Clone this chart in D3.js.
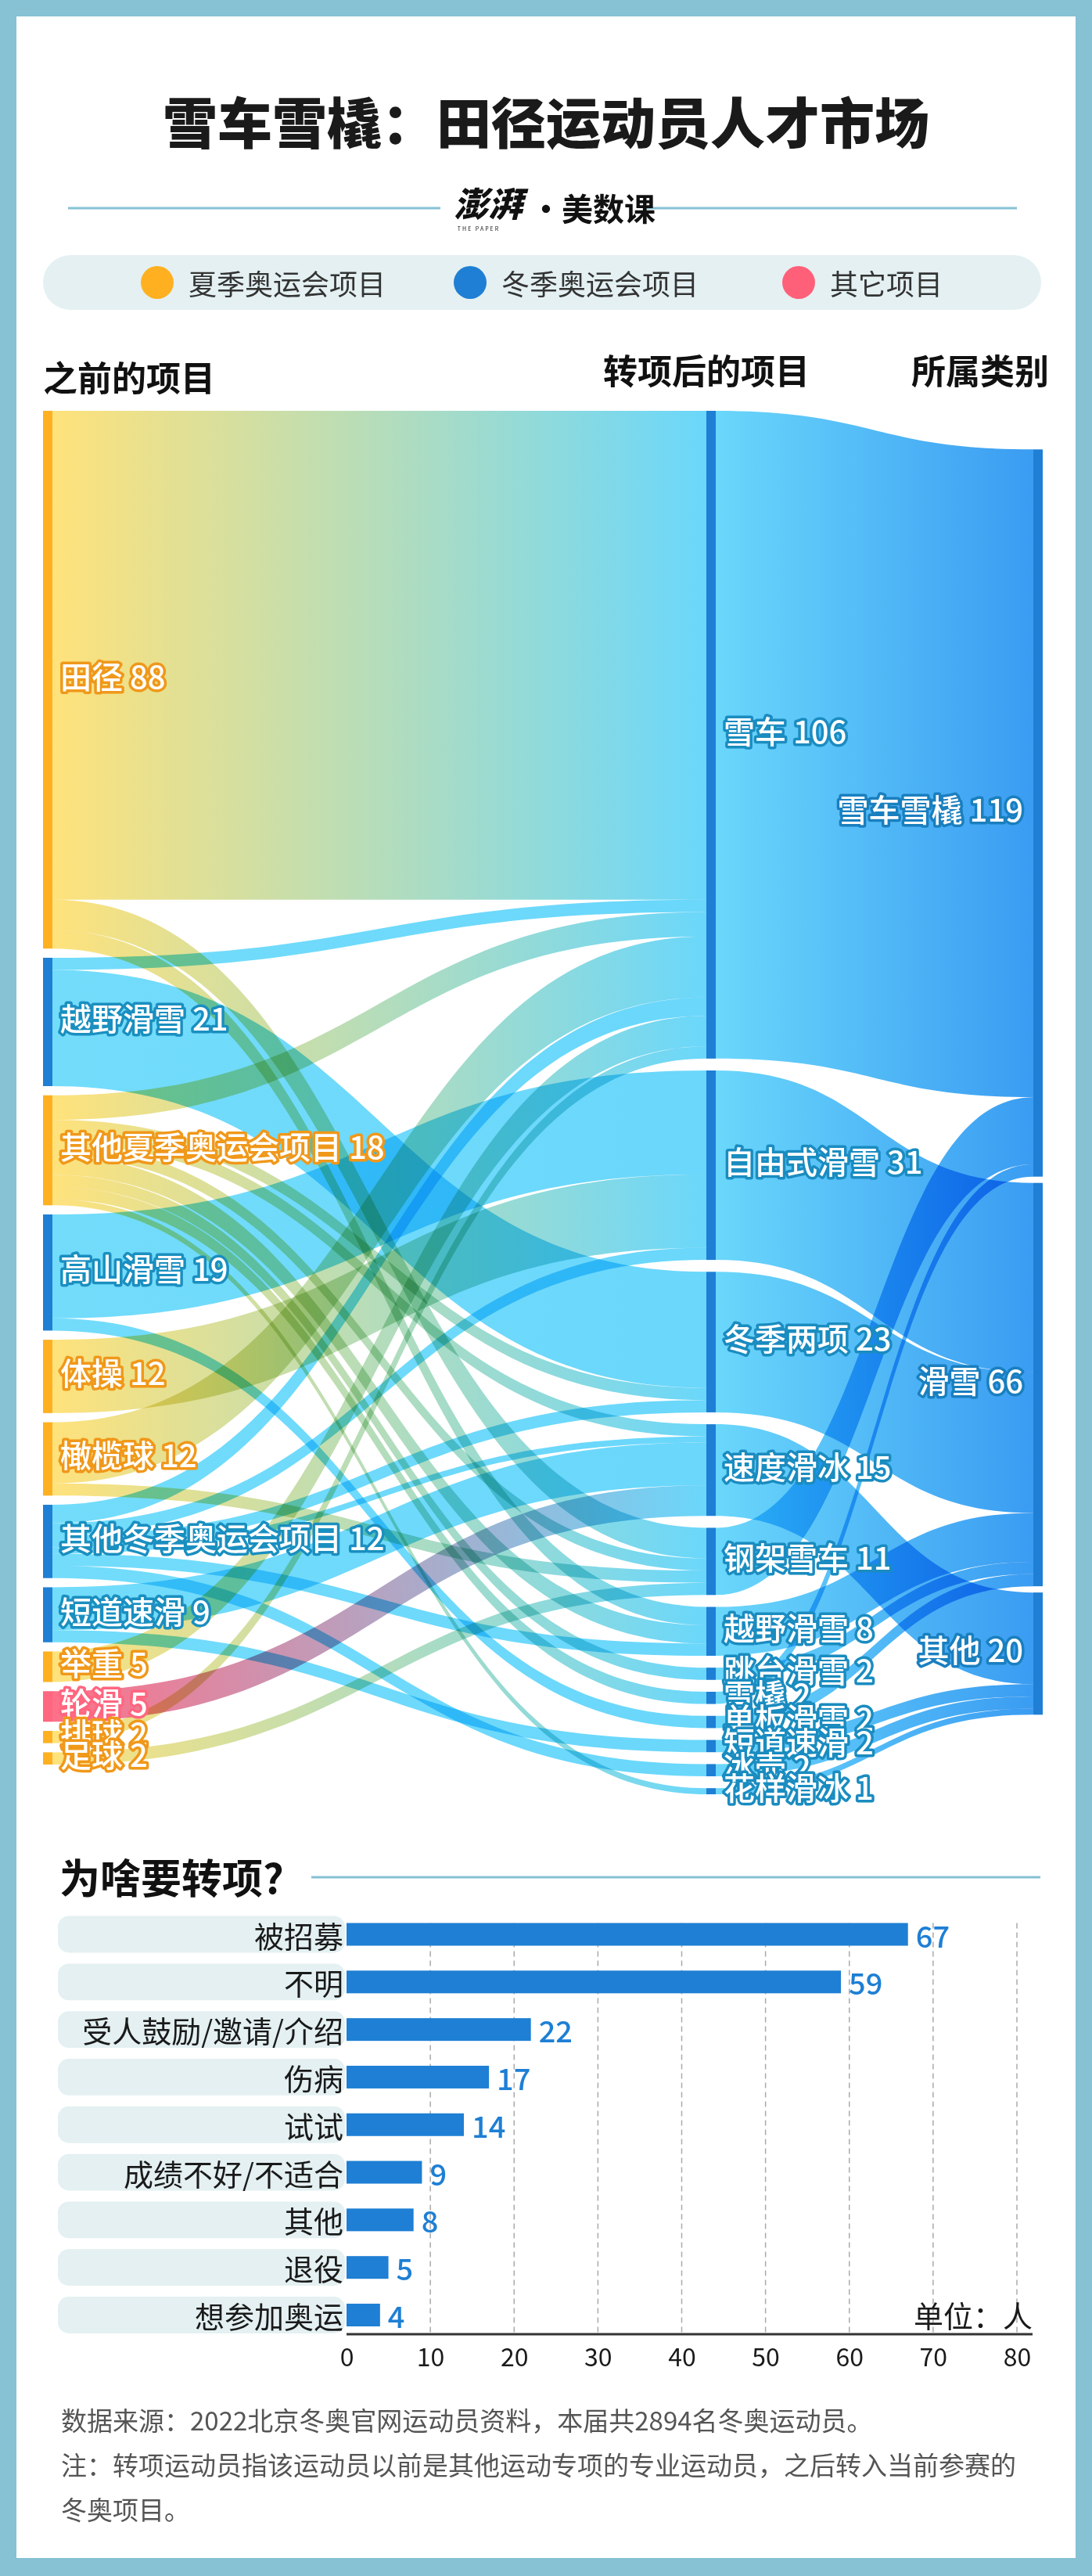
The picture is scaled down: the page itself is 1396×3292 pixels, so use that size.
<!DOCTYPE html>
<html><head><meta charset="utf-8">
<script src="https://cdn.jsdelivr.net/npm/d3@7"></script>
<style>
html,body{margin:0;padding:0;background:#86C1D4;}
svg{display:block;}
text{font-family:"Noto Sans CJK SC","Noto Sans",sans-serif;}
</style></head><body>
<svg id="chart" width="1396" height="3292"></svg>
<script>
// ---------------- DATA ----------------
const titleText = "雪车雪橇：田径运动员人才市场";
const legendLabels = ["夏季奥运会项目", "冬季奥运会项目", "其它项目"];
const legendGroups = ["summer", "winter", "other"];
const columnTitles = ["之前的项目", "转项后的项目", "所属类别"];

const leftNames = ["田径","越野滑雪","其他夏季奥运会项目","高山滑雪","体操","橄榄球","其他冬季奥运会项目","短道速滑","举重","轮滑","排球","足球"];
const leftGroups = ["summer","winter","summer","winter","summer","summer","winter","winter","summer","other","summer","summer"];
const midNames = ["雪车","自由式滑雪","冬季两项","速度滑冰","钢架雪车","越野滑雪","跳台滑雪","雪橇","单板滑雪","短道速滑","冰壶","花样滑冰"];
const rightNames = ["雪车雪橇","滑雪","其他"];

// before -> after
const beforeAfterLinks = [
  ["田径","雪车",80],["田径","钢架雪车",5],["田径","越野滑雪",3],
  ["越野滑雪","雪车",2],["越野滑雪","冬季两项",19],
  ["其他夏季奥运会项目","雪车",4],["其他夏季奥运会项目","冬季两项",2],["其他夏季奥运会项目","速度滑冰",2],
  ["其他夏季奥运会项目","钢架雪车",2],["其他夏季奥运会项目","越野滑雪",3],["其他夏季奥运会项目","跳台滑雪",2],
  ["其他夏季奥运会项目","雪橇",2],["其他夏季奥运会项目","花样滑冰",1],
  ["高山滑雪","自由式滑雪",17],["高山滑雪","单板滑雪",2],
  ["体操","自由式滑雪",12],
  ["橄榄球","雪车",10],["橄榄球","钢架雪车",2],
  ["其他冬季奥运会项目","雪车",3],["其他冬季奥运会项目","自由式滑雪",2],["其他冬季奥运会项目","冬季两项",2],
  ["其他冬季奥运会项目","速度滑冰",1],["其他冬季奥运会项目","越野滑雪",2],["其他冬季奥运会项目","冰壶",2],
  ["短道速滑","速度滑冰",7],["短道速滑","短道速滑",2],
  ["举重","雪车",5],
  ["轮滑","速度滑冰",5],
  ["排球","雪车",2],
  ["足球","钢架雪车",2]
];
// after -> category
const afterCategoryLinks = [
  ["雪车","雪车雪橇",106],["钢架雪车","雪车雪橇",11],["雪橇","雪车雪橇",2],
  ["自由式滑雪","滑雪",31],["冬季两项","滑雪",23],["越野滑雪","滑雪",8],["跳台滑雪","滑雪",2],["单板滑雪","滑雪",2],
  ["速度滑冰","其他",15],["短道速滑","其他",2],["冰壶","其他",2],["花样滑冰","其他",1]
];

const sectionTitle = "为啥要转项?";
const reasons = ["被招募","不明","受人鼓励/邀请/介绍","伤病","试试","成绩不好/不适合","其他","退役","想参加奥运"];
const reasonCounts = [67,59,22,17,14,9,8,5,4];
const reasonTicks = [0,10,20,30,40,50,60,70,80];
const unitText = "单位：人";
const notes = ["数据来源：2022北京冬奥官网运动员资料，本届共2894名冬奥运动员。",
               "注：转项运动员指该运动员以前是其他运动专项的专业运动员，之后转入当前参赛的",
               "冬奥项目。"];

// ---------------- STYLE ----------------
const nodeColor = {summer:"#FFB020", winter:"#1E7FD4", other:"#FF6680", cat:"#1E7FD4"};
const flowColor = {summer:"#FFE27B", winter:"#73DCFB", other:"#FF7088", mid:"#6AD7FB", cat:"#3A9CF2"};
const labelStroke = {summer:"#F0981A", winter:"#1A8FC0", other:"#FF6680", mid:"#1A8CC0", cat:"#1A7FBF"};
const legendColor = {summer:"#FFB020", winter:"#1E7FD4", other:"#FF6079"};
const BLUE = "#1E7FD4", FRAME = "#86C1D4", PALE = "#E4F0F2";

const svg = d3.select("#chart");
svg.append("rect").attr("width",1396).attr("height",3292).attr("fill",FRAME);
svg.append("rect").attr("x",21).attr("y",21).attr("width",1354).attr("height",3248).attr("fill","#fff");

// ---------------- HEADER ----------------
svg.append("text").attr("x",698).attr("y",153).attr("text-anchor","middle").attr("dominant-baseline","central")
  .attr("font-size",70).attr("font-weight",900).attr("fill","#1a1a1a").text(titleText);
svg.append("line").attr("x1",87).attr("x2",563).attr("y1",266).attr("y2",266).attr("stroke",FRAME).attr("stroke-width",3);
svg.append("line").attr("x1",824).attr("x2",1300).attr("y1",266).attr("y2",266).attr("stroke",FRAME).attr("stroke-width",3);
svg.append("text").attr("x",624).attr("y",258).attr("text-anchor","middle").attr("dominant-baseline","central")
  .attr("font-size",44).attr("font-weight",900).attr("fill","#111").attr("font-style","italic").text("澎湃");
svg.append("text").attr("x",612).attr("y",295).attr("text-anchor","middle").attr("font-size",7).attr("fill","#111").attr("letter-spacing",2).text("THE PAPER");
svg.append("text").attr("x",678).attr("y",265).attr("dominant-baseline","central")
  .attr("font-size",40).attr("font-weight",700).attr("fill","#111").text("·美数课");

// legend
svg.append("rect").attr("x",55).attr("y",326).attr("width",1276).attr("height",70).attr("rx",35).attr("fill",PALE);
const legPos = [201, 601, 1021];
const lg = svg.append("g").selectAll("g").data(legendLabels).join("g")
  .attr("transform",(d,i)=>`translate(${legPos[i]},361)`);
lg.append("circle").attr("r",21).attr("fill",(d,i)=>legendColor[legendGroups[i]]);
lg.append("text").attr("x",40).attr("dominant-baseline","central").attr("font-size",36).attr("fill","#333").text(d=>d);

// ---------------- SANKEY ----------------
const colX = d3.scaleLinear().domain([0,1,2]).range([55, 903, 1321]);
const nodeW = 12;
const sankeyTop = 525;
const colBottom = [2255, 2293];
const flowHeight = 1601;
const rightGap = 8;
const relaxAlpha = 0.73;

const nodes = [];
leftNames.forEach((n,i)=>nodes.push({id:"L:"+n,name:n,col:0,group:leftGroups[i]}));
midNames.forEach((n,i)=>nodes.push({id:"M:"+n,name:n,col:1,group:"mid"}));
rightNames.forEach((n,i)=>nodes.push({id:"R:"+n,name:n,col:2,group:"cat"}));
const byId = new Map(nodes.map(d=>[d.id,d]));
const links = [];
beforeAfterLinks.forEach(([s,t,v])=>links.push({source:byId.get("L:"+s),target:byId.get("M:"+t),value:v}));
afterCategoryLinks.forEach(([s,t,v])=>links.push({source:byId.get("M:"+s),target:byId.get("R:"+t),value:v}));
nodes.forEach(n=>{n.sourceLinks=[];n.targetLinks=[];});
links.forEach(l=>{l.source.sourceLinks.push(l);l.target.targetLinks.push(l);});
nodes.forEach(n=>{n.value=Math.max(d3.sum(n.sourceLinks,l=>l.value),d3.sum(n.targetLinks,l=>l.value));});

const total = d3.sum(nodes.filter(n=>n.col===0),n=>n.value);
const hScale = d3.scaleLinear().domain([0,total]).range([0,flowHeight]);

function stackColumn(col,bottom){
  const ns = nodes.filter(n=>n.col===col);
  const used = hScale(d3.sum(ns,n=>n.value));
  const gap = (bottom - sankeyTop - used)/(ns.length-1);
  let y = sankeyTop;
  ns.forEach(n=>{n.y0=y;n.y1=y+hScale(n.value);y=n.y1+gap;});
  return ns;
}
stackColumn(0,colBottom[0]);
stackColumn(1,colBottom[1]);
// right column: justified start, relaxed toward incoming flows, collisions resolved
const rs = stackColumn(2,colBottom[1]);
rs.forEach(n=>{
  const c = d3.sum(n.targetLinks,l=>(l.source.y0+l.source.y1)/2*l.value)/n.value;
  const want = c - hScale(n.value)/2;
  const d = (want - n.y0)*relaxAlpha;
  n.y0+=d; n.y1+=d;
});
let yy = sankeyTop;
rs.forEach(n=>{ if(n.y0<yy){const d=yy-n.y0;n.y0+=d;n.y1+=d;} yy=n.y1+rightGap; });
yy = colBottom[1];
rs.slice().reverse().forEach(n=>{ if(n.y1>yy){const d=n.y1-yy;n.y0-=d;n.y1-=d;} yy=n.y0-rightGap; });

nodes.forEach(n=>{ n.x0 = colX(n.col); n.x1 = n.x0+nodeW; });
nodes.forEach(n=>{
  n.sourceLinks.sort((a,b)=>a.target.y0-b.target.y0);
  n.targetLinks.sort((a,b)=>a.source.y0-b.source.y0);
  let y=n.y0; n.sourceLinks.forEach(l=>{l.sy=y;y+=hScale(l.value);});
  y=n.y0; n.targetLinks.forEach(l=>{l.ty=y;y+=hScale(l.value);});
});
links.forEach(l=>{l.w=hScale(l.value);});

function bandPath(l){
  const sx=l.source.x1, tx=l.target.x0, mx=(sx+tx)/2;
  return `M${sx},${l.sy}C${mx},${l.sy} ${mx},${l.ty} ${tx},${l.ty}`+
         `L${tx},${l.ty+l.w}C${mx},${l.ty+l.w} ${mx},${l.sy+l.w} ${sx},${l.sy+l.w}Z`;
}
const defs = svg.append("defs");
links.forEach((l,i)=>{
  const g = defs.append("linearGradient").attr("id","lg"+i).attr("gradientUnits","userSpaceOnUse")
    .attr("x1",l.source.x1).attr("x2",l.target.x0).attr("y1",0).attr("y2",0);
  g.append("stop").attr("offset","0%").attr("stop-color",flowColor[l.source.group]);
  g.append("stop").attr("offset","100%").attr("stop-color",flowColor[l.target.group]);
});
svg.append("g").selectAll("path").data(links).join("path")
  .attr("d",bandPath).attr("fill",(d,i)=>`url(#lg${i})`).style("mix-blend-mode","multiply");

svg.append("g").selectAll("rect").data(nodes).join("rect")
  .attr("x",d=>d.x0).attr("y",d=>d.y0).attr("width",nodeW).attr("height",d=>d.y1-d.y0)
  .attr("fill",d=>nodeColor[d.group==="mid"?"winter":d.group]);

svg.append("g").selectAll("text").data(nodes).join("text")
  .attr("x",d=>d.col<2?d.x1+10:d.x0-13)
  .attr("y",d=>(d.y0+d.y1)/2-6)
  .attr("text-anchor",d=>d.col<2?"start":"end")
  .attr("dominant-baseline","central")
  .attr("font-size",40).attr("font-weight",500)
  .attr("fill","#fff").attr("stroke",d=>labelStroke[d.group]).attr("stroke-width",7)
  .attr("stroke-linejoin","round").style("paint-order","stroke")
  .text(d=>d.name+" "+d.value);

// column titles
svg.append("text").attr("x",colX(0)).attr("y",481).attr("dominant-baseline","central").attr("font-size",44).attr("font-weight",700).attr("fill","#111").text(columnTitles[0]);
svg.append("text").attr("x",colX(1)).attr("y",472).attr("text-anchor","middle").attr("dominant-baseline","central").attr("font-size",44).attr("font-weight",700).attr("fill","#111").text(columnTitles[1]);
svg.append("text").attr("x",colX(2)+nodeW+8).attr("y",472).attr("text-anchor","end").attr("dominant-baseline","central").attr("font-size",44).attr("font-weight",700).attr("fill","#111").text(columnTitles[2]);

// ---------------- BAR CHART ----------------
svg.append("text").attr("x",76).attr("y",2397).attr("dominant-baseline","central").attr("font-size",52).attr("font-weight",700).attr("fill","#111").text(sectionTitle);
svg.append("line").attr("x1",398).attr("x2",1330).attr("y1",2399).attr("y2",2399).attr("stroke",FRAME).attr("stroke-width",3);

const bx = d3.scaleLinear().domain([0,80]).range([443,1300]);
const by = d3.scaleBand().domain(reasons).range([2441.6,2988.9]).paddingInner(0.23).paddingOuter(0.115);
const barH = 29;
const axisY = 2983;
const bar = svg.append("g");
bar.append("g").selectAll("rect").data(reasons).join("rect")
  .attr("x",74).attr("y",d=>by(d)).attr("width",bx(0)-2-74).attr("height",by.bandwidth()).attr("rx",14).attr("fill",PALE);
const gridTop = by(reasons[0]) + (by.bandwidth()-barH)/2;
bar.append("g").selectAll("line").data(reasonTicks.slice(1)).join("line")
  .attr("x1",d=>bx(d)).attr("x2",d=>bx(d)).attr("y1",gridTop).attr("y2",axisY)
  .attr("stroke","#aaa").attr("stroke-width",1.5).attr("stroke-dasharray","7,5");
bar.append("g").selectAll("rect").data(reasons).join("rect")
  .attr("x",bx(0)).attr("y",d=>by(d)+(by.bandwidth()-barH)/2).attr("width",(d,i)=>bx(reasonCounts[i])-bx(0)).attr("height",barH).attr("fill",BLUE);
bar.append("g").selectAll("text").data(reasons).join("text")
  .attr("x",bx(0)-4).attr("y",d=>by(d)+by.bandwidth()/2).attr("text-anchor","end").attr("dominant-baseline","central")
  .attr("font-size",38).attr("fill","#1a1a1a").text(d=>d);
bar.append("g").selectAll("text").data(reasons).join("text")
  .attr("x",(d,i)=>bx(reasonCounts[i])+10).attr("y",d=>by(d)+by.bandwidth()/2).attr("dominant-baseline","central")
  .attr("font-size",38).attr("font-weight",500).attr("fill",BLUE).text((d,i)=>reasonCounts[i]);
const axis = bar.append("g").attr("transform",`translate(0,${axisY})`)
  .call(d3.axisBottom(bx).tickValues(reasonTicks).tickSize(0).tickPadding(18));
axis.select(".domain").remove();
axis.selectAll("text").attr("font-size",32).attr("fill","#1a1a1a").attr("font-family",'"Noto Sans CJK SC","Noto Sans",sans-serif');
bar.append("line").attr("x1",bx(0)).attr("x2",bx(80)+20).attr("y1",axisY).attr("y2",axisY).attr("stroke","#333").attr("stroke-width",3);
bar.append("text").attr("x",bx(80)+20).attr("y",2957).attr("text-anchor","end").attr("dominant-baseline","central")
  .attr("font-size",38).attr("fill","#1a1a1a").text(unitText);

// notes
svg.append("g").selectAll("text").data(notes).join("text")
  .attr("x",78).attr("y",(d,i)=>3092+i*57).attr("dominant-baseline","central")
  .attr("font-size",33).attr("fill","#555").text(d=>d);
</script>
</body></html>
